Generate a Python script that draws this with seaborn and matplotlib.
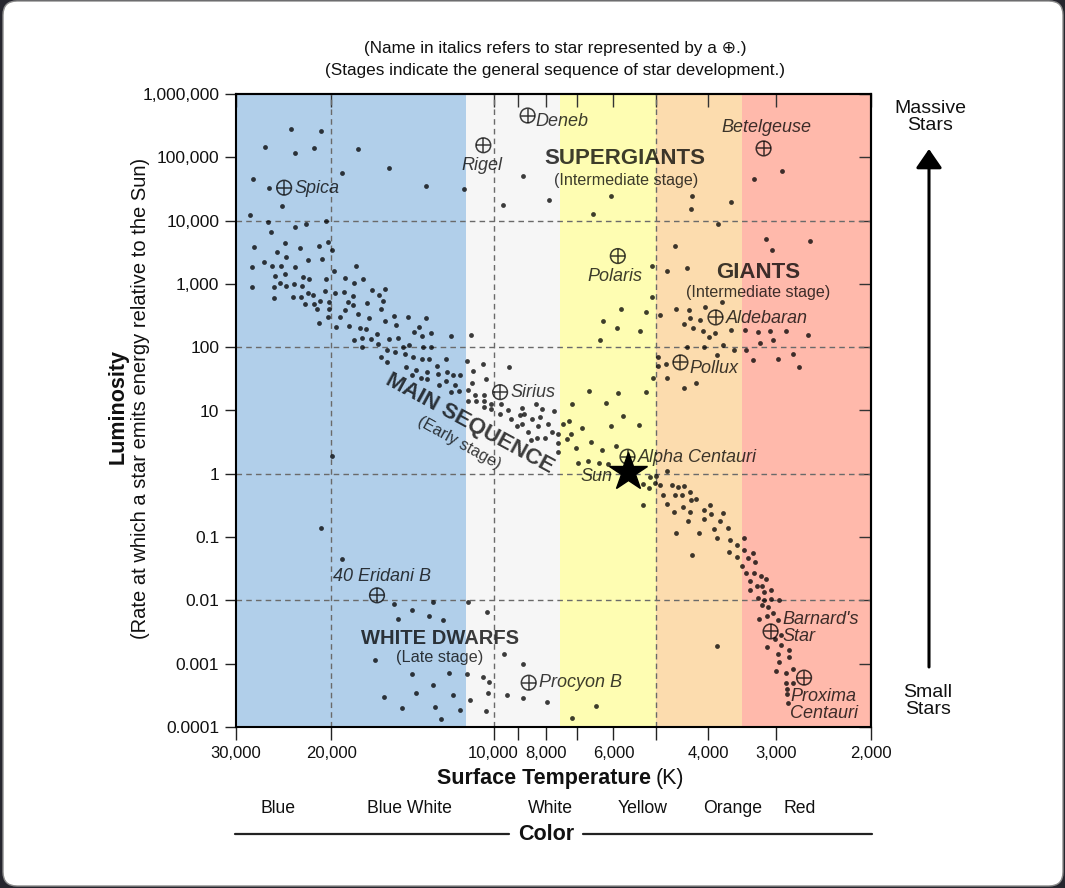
import numpy as np
import pandas as pd
import matplotlib
matplotlib.use("Agg")
import matplotlib.pyplot as plt
import seaborn as sns
from matplotlib.ticker import FixedLocator, FixedFormatter, NullLocator, NullFormatter
from matplotlib.patches import FancyBboxPatch, FancyArrowPatch
from matplotlib.lines import Line2D
from matplotlib.transforms import IdentityTransform

# ---------------- data (log10 surface temperature [K], log10 luminosity [L_sun]) -------------
supergiant_logT = [4.375, 4.320, 4.424, 4.367, 4.333, 4.252, 4.281, 4.193, 4.446, 4.416, 4.125, 4.055,
                   4.391, 3.983, 3.945, 3.898, 3.782, 3.816, 3.633, 3.634, 3.561, 3.466, 3.517, 4.452, 3.585]
supergiant_logL = [5.44, 5.41, 5.16, 5.07, 5.14, 5.13, 4.75, 4.83, 4.66, 4.51, 4.55, 4.50,
                   4.23, 4.25, 4.70, 4.33, 4.39, 4.10, 4.39, 4.19, 4.29, 4.79, 4.65, 4.09, 3.94]

giant_logT = [3.664, 3.495, 3.484, 3.414, 3.707, 3.678, 3.642, 3.706, 3.577, 3.764, 3.717, 3.691,
              3.663, 3.638, 3.609, 3.797, 3.771, 3.729, 3.636, 3.618, 3.648, 3.630, 3.613, 3.590,
              3.561, 3.535, 3.510, 3.488, 3.458, 3.417, 3.601, 3.803, 3.642, 3.611, 3.576, 3.554,
              3.533, 3.506, 3.482, 3.587, 3.696, 3.680, 3.695, 3.520, 3.474, 3.446, 3.434, 3.704,
              3.679, 3.648, 3.626, 3.824, 3.769, 3.717, 3.791, 3.761, 3.782, 3.731, 3.820, 3.773]
giant_logL = [3.60, 3.71, 3.54, 3.68, 3.28, 3.21, 3.25, 2.79, 2.71, 2.60, 2.55, 2.51,
              2.60, 2.58, 2.63, 2.42, 2.31, 2.26, 2.46, 2.43, 2.36, 2.31, 2.26, 2.22,
              2.27, 2.27, 2.24, 2.26, 2.26, 2.20, 2.16, 2.12, 2.00, 2.00, 2.03, 1.95,
              1.96, 2.06, 2.11, 1.88, 1.85, 1.73, 1.70, 1.80, 1.81, 1.89, 1.68, 1.51,
              1.51, 1.36, 1.44, 1.31, 1.27, 1.30, 1.12, 0.92, 0.76, 0.77, 0.50, 0.44]

ms_hot_logT = [4.418, 4.367, 4.348, 4.310, 4.413, 4.443, 4.386, 4.359, 4.323, 4.306, 4.299, 4.401,
               4.385, 4.447, 4.425, 4.411, 4.393, 4.368, 4.343, 4.317, 4.255, 4.295, 4.405, 4.387,
               4.353, 4.341, 4.310, 4.276, 4.258, 4.241, 4.447, 4.406, 4.396, 4.385, 4.369, 4.355,
               4.407, 4.372, 4.357, 4.344, 4.334, 4.312, 4.294, 4.278, 4.261, 4.225, 4.213, 4.201,
               4.350, 4.333, 4.321, 4.304, 4.270, 4.260, 4.234, 4.205, 4.327, 4.304, 4.276, 4.209,
               4.306, 4.284, 4.252, 4.231, 4.201, 4.184, 4.159, 4.125, 4.323, 4.292, 4.268, 4.247,
               4.237, 4.180, 4.148, 4.138, 4.116, 4.133, 4.216, 4.078, 4.042, 4.259, 4.243, 4.228,
               4.193, 4.178, 4.243, 4.215, 4.198, 4.183, 4.168, 4.157, 4.130, 4.116, 4.164, 4.149,
               4.132, 4.120, 4.089, 4.208, 4.198, 4.050, 4.020, 3.971, 4.162, 4.143, 4.124, 4.105,
               4.087, 4.151, 4.134, 4.103, 4.076, 4.063, 4.039, 4.123, 4.088, 4.101, 4.072, 4.040,
               4.014, 4.064, 4.078, 4.048, 4.035, 4.017, 4.047, 4.033, 4.017, 4.004, 3.986, 4.017,
               4.005, 3.988, 3.973, 3.948, 3.921, 3.910, 3.889, 3.968, 3.952, 3.943, 3.929, 3.914,
               3.957, 3.948, 3.936, 3.917, 3.900, 3.891, 3.931, 3.920, 3.905, 3.880, 3.881, 3.880]
ms_hot_logL = [3.97, 3.90, 3.95, 3.99, 3.82, 3.59, 3.65, 3.57, 3.60, 3.66, 3.54, 3.51,
               3.42, 3.26, 3.34, 3.29, 3.29, 3.26, 3.37, 3.39, 3.28, 3.20, 3.13, 3.16,
               3.11, 3.07, 3.08, 3.10, 3.01, 3.07, 2.95, 2.95, 3.02, 2.96, 3.00, 2.96,
               2.77, 2.79, 2.79, 2.85, 2.83, 2.88, 2.85, 2.87, 2.81, 2.90, 2.83, 2.92,
               2.68, 2.69, 2.73, 2.72, 2.71, 2.67, 2.70, 2.73, 2.61, 2.61, 2.58, 2.61,
               2.47, 2.47, 2.52, 2.46, 2.42, 2.50, 2.47, 2.46, 2.39, 2.32, 2.34, 2.30,
               2.29, 2.35, 2.24, 2.32, 2.22, 2.18, 2.21, 2.17, 2.19, 2.12, 2.14, 2.13,
               2.13, 2.14, 2.00, 2.05, 1.96, 1.92, 2.01, 2.03, 2.00, 2.00, 1.89, 1.85,
               1.81, 1.81, 1.81, 1.84, 1.77, 1.78, 1.73, 1.68, 1.68, 1.64, 1.61, 1.71,
               1.61, 1.56, 1.52, 1.57, 1.56, 1.56, 1.62, 1.49, 1.46, 1.40, 1.41, 1.43,
               1.49, 1.31, 1.30, 1.32, 1.24, 1.24, 1.15, 1.15, 1.15, 1.11, 1.11, 1.06,
               1.02, 0.95, 1.00, 1.04, 1.10, 1.02, 0.99, 0.86, 0.93, 0.95, 0.87, 0.89,
               0.75, 0.79, 0.66, 0.76, 0.78, 0.66, 0.54, 0.57, 0.56, 0.63, 0.48, 0.34]

ms_cool_logT = [3.855, 3.860, 3.872, 3.837, 3.856, 3.864, 3.848, 3.800, 3.843, 3.825, 3.805, 3.789,
                3.678, 3.711, 3.700, 3.724, 3.713, 3.702, 3.691, 3.669, 3.659, 3.647, 3.686, 3.664,
                3.652, 3.637, 3.635, 3.625, 3.723, 3.679, 3.650, 3.611, 3.599, 3.636, 3.666, 3.597,
                3.576, 3.640, 3.611, 3.581, 3.591, 3.566, 3.663, 3.620, 3.587, 3.563, 3.536, 3.550,
                3.564, 3.536, 3.520, 3.549, 3.529, 3.516, 3.633, 3.540, 3.533, 3.518, 3.505, 3.495,
                3.525, 3.512, 3.502, 3.526, 3.499, 3.486, 3.511, 3.500, 3.487, 3.471, 3.502, 3.491,
                3.482, 3.494, 3.508, 3.473, 3.479, 3.468, 3.494, 3.468, 3.474, 3.453, 3.453, 3.471,
                3.477, 3.458, 3.446, 3.458, 3.446, 3.457, 3.456, 3.454, 3.587]
ms_cool_logL = [1.10, 0.84, 0.78, 0.72, 0.63, 0.55, 0.40, 0.38, 0.17, 0.21, 0.17, 0.15,
                0.05, -0.05, -0.04, -0.16, -0.22, -0.15, -0.17, -0.17, -0.21, -0.20, -0.34, -0.33,
                -0.34, -0.29, -0.42, -0.40, -0.49, -0.47, -0.52, -0.57, -0.50, -0.60, -0.60, -0.64,
                -0.62, -0.75, -0.72, -0.74, -0.87, -0.85, -0.93, -0.94, -1.02, -1.04, -1.02, -1.13,
                -1.23, -1.21, -1.25, -1.31, -1.33, -1.40, -1.28, -1.46, -1.57, -1.56, -1.62, -1.66,
                -1.69, -1.77, -1.77, -1.83, -1.87, -1.84, -1.96, -2.00, -1.98, -2.00, -2.07, -2.11,
                -2.20, -2.25, -2.30, -2.31, -2.61, -2.70, -2.73, -2.54, -2.84, -2.78, -2.89, -2.97,
                -3.12, -3.15, -3.09, -3.31, -3.31, -3.40, -3.48, -3.62, -2.72]

dwarf_logT = [4.299, 4.319, 4.281, 4.184, 4.112, 4.047, 4.152, 4.120, 4.178, 4.094, 4.013, 4.219,
              3.980, 3.945, 4.152, 4.083, 4.050, 4.020, 4.008, 4.113, 4.143, 4.075, 4.011, 3.976,
              3.945, 3.902, 4.203, 4.043, 4.169, 4.109, 4.063, 4.014, 4.097, 3.810, 3.854]
dwarf_logL = [0.28, -0.86, -1.34, -2.05, -2.03, -2.03, -2.15, -2.25, -2.30, -2.31, -2.19, -2.94,
              -2.85, -3.00, -3.17, -3.15, -3.16, -3.21, -3.29, -3.34, -3.46, -3.50, -3.46, -3.50,
              -3.54, -3.60, -3.52, -3.58, -3.70, -3.68, -3.73, -3.75, -3.88, -3.67, -3.86]

named_stars = ["Spica", "Rigel", "Deneb", "Betelgeuse", "Polaris", "Aldebaran", "Pollux", "Sirius",
               "Alpha Centauri", "40 Eridani B", "Procyon B", "Barnard's\nStar", "Proxima\nCentauri"]
named_logT = [4.388, 4.019, 3.937, 3.500, 3.770, 3.589, 3.654, 3.988, 3.752, 4.216, 3.935, 3.487, 3.425]
named_logL = [4.52, 5.19, 5.66, 5.14, 3.44, 2.47, 1.76, 1.29, 0.27, -1.92, -3.30, -2.49, -3.22]

sun_logT = 3.751
sun_logL = 0.03

band_edges_K = [30000, 11270, 7550, 5000, 3460, 2000]
band_names = ["Blue", "Blue White", "White", "Yellow", "Orange", "Red"]

x_major_ticks = [30000, 20000, 10000, 8000, 6000, 4000, 3000, 2000]
x_tick_labels = ["30,000", "20,000", "10,000", "8,000", "6,000", "4,000", "3,000", "2,000"]
x_minor_ticks = [9000, 7000, 5000]
y_ticks = [1e-4, 1e-3, 1e-2, 1e-1, 1, 10, 100, 1e3, 1e4, 1e5, 1e6]
y_tick_labels = ["0.0001", "0.001", "0.01", "0.1", "1", "10", "100", "1,000", "10,000", "100,000", "1,000,000"]

# ---------------- style / layout ----------------
band_colors = ["#b1cfea", "#f6f6f6", "#fefdb2", "#fcdcae", "#ffb9ab"]
INK = dict(color="black", alpha=0.76)

sns.set_theme(style="white")
plt.rcParams["font.family"] = ["Liberation Sans", "DejaVu Sans"]

W, H = 1065, 888
fig = plt.figure(figsize=(W / 100, H / 100), dpi=100)
fig.patch.set_facecolor("#26262e")


def fx(px):
    return px / W


def fy(py):
    return 1 - py / H


card = FancyBboxPatch((3, 2), 1060, 885, boxstyle="round,pad=0,rounding_size=14",
                      transform=IdentityTransform(), facecolor="white", edgecolor="#8c8c8c",
                      lw=1, zorder=-5)
fig.add_artist(card)

ax = fig.add_axes([fx(236), fy(727), (871 - 236) / W, (727 - 94) / H])
ax.set_xscale("log")
ax.set_yscale("log")

for lo, hi, c in zip(band_edges_K[:-1], band_edges_K[1:], band_colors):
    ax.axvspan(lo, hi, color=c, lw=0, zorder=0)

for v in [1e4, 1e2, 1, 1e-2]:
    ax.axhline(v, color="#6a6a6a", lw=1, ls=(0, (4, 3)), zorder=1)
for v in [20000, 10000, 5000]:
    ax.axvline(v, color="#6a6a6a", lw=1, ls=(0, (4, 3)), zorder=1)

dots = pd.DataFrame({
    "logT": supergiant_logT + giant_logT + ms_hot_logT + ms_cool_logT + dwarf_logT,
    "logL": supergiant_logL + giant_logL + ms_hot_logL + ms_cool_logL + dwarf_logL,
})
dots["temperature"] = 10 ** dots["logT"]
dots["luminosity"] = 10 ** dots["logL"]
sns.scatterplot(data=dots, x="temperature", y="luminosity", s=12, linewidth=0,
                ax=ax, zorder=3, **INK)

named = pd.DataFrame({"name": named_stars, "temperature": 10 ** np.array(named_logT),
                      "luminosity": 10 ** np.array(named_logL)})
ax.scatter(named["temperature"], named["luminosity"], s=112, facecolors="none",
           edgecolors="black", linewidths=1.1, alpha=0.76, zorder=4)
ax.scatter(named["temperature"], named["luminosity"], s=112, marker="+",
           color="black", linewidths=1.1, alpha=0.76, zorder=4)

label_layout = {
    "Spica": (10, 1, "left"), "Rigel": (-1, 20, "center"), "Deneb": (8, 6, "left"),
    "Betelgeuse": (3, -21, "center"), "Polaris": (-3, 20, "center"),
    "Aldebaran": (10, 1, "left"), "Pollux": (9, 6, "left"), "Sirius": (10, 0, "left"),
    "Alpha Centauri": (10, 1, "left"), "40 Eridani B": (5, -19, "center"),
    "Procyon B": (10, 0, "left"), "Barnard's\nStar": (12, -3, "left"),
    "Proxima\nCentauri": (-14, 27, "left"),
}
for _, r in named.iterrows():
    dx, dy, ha = label_layout[r["name"]]
    ax.annotate(r["name"], (r["temperature"], r["luminosity"]), xytext=(dx, -dy),
                textcoords="offset pixels", ha=ha, va="center", fontsize=13,
                style="italic", linespacing=1.0, zorder=5, **INK)

ax.plot([10 ** sun_logT], [10 ** sun_logL], marker="*", ms=29, color="black", ls="none", zorder=6)
ax.annotate("Sun", (10 ** sun_logT, 10 ** sun_logL), xytext=(-16, -5),
            textcoords="offset pixels", ha="right", va="center", fontsize=13,
            style="italic", zorder=5, **INK)

ax.set_xlim(30000, 2000)
ax.set_ylim(1e-4, 1e6)
ax.set_xlabel("")
ax.set_ylabel("")

ax.xaxis.set_major_locator(FixedLocator(x_major_ticks))
ax.xaxis.set_major_formatter(FixedFormatter(x_tick_labels))
ax.xaxis.set_minor_locator(FixedLocator(x_minor_ticks))
ax.xaxis.set_minor_formatter(NullFormatter())
ax.yaxis.set_major_locator(FixedLocator(y_ticks))
ax.yaxis.set_major_formatter(FixedFormatter(y_tick_labels))
ax.yaxis.set_minor_locator(NullLocator())
ax.tick_params(axis="x", which="both", direction="out", length=9.4, width=1.0,
               color="#222222", labelsize=12, pad=4, labelcolor="#111111", bottom=True, top=False)
ax.tick_params(axis="y", which="both", direction="out", length=8, width=1.0,
               color="#222222", labelsize=12.5, pad=4, labelcolor="#111111", left=True, right=False)
for s in ax.spines.values():
    s.set_visible(True)
    s.set_color("black")
    s.set_linewidth(1.5)
    s.set_zorder(7)

secx = ax.secondary_xaxis("top")
secx.xaxis.set_major_locator(FixedLocator(x_major_ticks + x_minor_ticks))
secx.xaxis.set_major_formatter(NullFormatter())
secx.xaxis.set_minor_locator(NullLocator())
secx.tick_params(direction="in", length=9.4, width=1.0, color="#333333", labeltop=False)
secx.spines["top"].set_linewidth(1.5)

secy = ax.secondary_yaxis("right")
secy.yaxis.set_major_locator(FixedLocator(y_ticks))
secy.yaxis.set_major_formatter(NullFormatter())
secy.yaxis.set_minor_locator(NullLocator())
secy.tick_params(direction="in", length=8.5, width=1.0, color="#333333", labelright=False)
secy.spines["right"].set_linewidth(1.5)

# ---------------- region labels ----------------
def ftext(x, y, s, **kw):
    fig.text(fx(x), fy(y), s, ha=kw.pop("ha", "center"), va=kw.pop("va", "center"), **kw)

ftext(625, 159, "SUPERGIANTS", fontsize=16, fontweight="bold", **INK)
ftext(626, 180, "(Intermediate stage)", fontsize=11.6, **INK)
ftext(758, 272, "GIANTS", fontsize=16, fontweight="bold", **INK)
ftext(758, 292, "(Intermediate stage)", fontsize=11.6, **INK)
ftext(440, 638, "WHITE DWARFS", fontsize=14.5, fontweight="bold", **INK)
ftext(440, 657, "(Late stage)", fontsize=11.7, **INK)
ftext(470, 424, "MAIN SEQUENCE", fontsize=16, fontweight="bold", rotation=-28.5,
      rotation_mode="anchor", **INK)
ftext(459, 443, "(Early stage)", fontsize=11.7, rotation=-29, rotation_mode="anchor", **INK)

# ---------------- titles and axis labels ----------------
ftext(555, 48, "(Name in italics refers to star represented by a \u2295.)", fontsize=12.3, color="#111111")
ftext(555, 70, "(Stages indicate the general sequence of star development.)", fontsize=12.3, color="#111111")
ftext(118, 407, "Luminosity", fontsize=15.5, fontweight="bold", rotation=90, color="#111111")
ftext(140, 398, "(Rate at which a star emits energy relative to the Sun)", fontsize=14.5,
      rotation=90, color="#111111")
ftext(651, 778, "Surface Temperature", fontsize=15.5, fontweight="bold", ha="right", color="#111111")
ftext(656, 778, "(K)", fontsize=15.5, ha="left", color="#111111")

band_label_x = [278, 409, 550, 643, 733, 800]
for name, xpos in zip(band_names, band_label_x):
    ftext(xpos, 808, name, fontsize=12.7, color="#111111")
ftext(546, 834, "Color", fontsize=15.5, fontweight="bold", color="#111111")
fig.add_artist(Line2D([fx(235), fx(509)], [fy(834), fy(834)], transform=fig.transFigure,
                      color="#222222", lw=1.6))
fig.add_artist(Line2D([fx(583), fx(872)], [fy(834), fy(834)], transform=fig.transFigure,
                      color="#222222", lw=1.6))

ftext(930, 117, "Massive\nStars", fontsize=14, linespacing=1.03, color="#111111")
ftext(928, 701, "Small\nStars", fontsize=14, linespacing=1.03, color="#111111")
fig.add_artist(FancyArrowPatch((fx(929), fy(667)), (fx(929), fy(149)), transform=fig.transFigure,
                               arrowstyle="-|>,head_length=0.58,head_width=0.4", mutation_scale=20,
                               lw=2.2, color="black", shrinkA=0, shrinkB=0))

fig.savefig("out.png", dpi=100, facecolor=fig.get_facecolor())
